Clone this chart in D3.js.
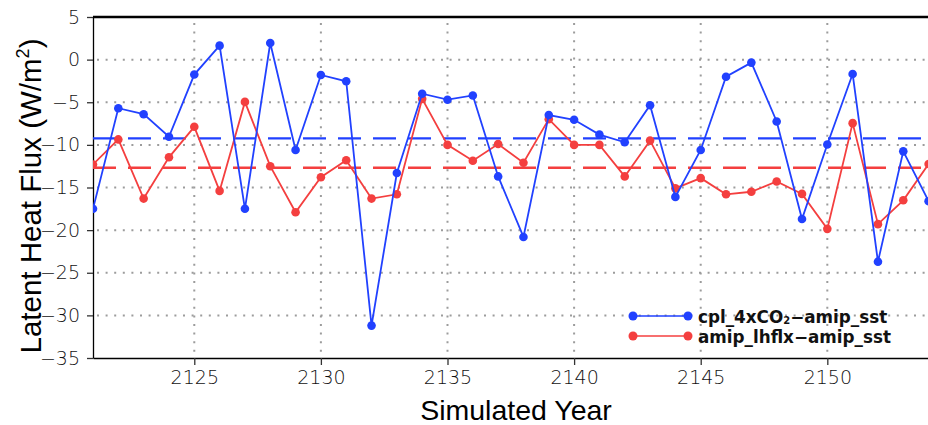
<!DOCTYPE html>
<html>
<head>
<meta charset="utf-8">
<script src="https://cdn.jsdelivr.net/npm/d3@7"></script>
<style>
  html, body { margin: 0; padding: 0; background: #fff; }
  svg { display: block; }
</style>
</head>
<body>
<svg id="chart" width="928" height="425"></svg>
<script>
const years = d3.range(2121, 2155);

// cpl_4xCO2 - amip_sst
const cplValues = [
  -17.5, -5.7, -6.4, -9.05, -1.75, 1.64, -17.5, 1.95, -10.6, -1.8,
  -2.54, -31.2, -13.3, -4.0, -4.7, -4.2, -13.7, -20.8, -6.5, -7.06,
  -8.8, -9.7, -5.35, -16.1, -10.6, -2.0, -0.35, -7.25, -18.7, -9.95,
  -1.68, -23.7, -10.76, -16.6
];

// amip_lhflx - amip_sst
const amipValues = [
  -12.3, -9.36, -16.3, -11.46, -7.88, -15.4, -4.96, -12.5, -17.9, -13.8,
  -11.8, -16.3, -15.8, -4.6, -10.0, -11.86, -9.9, -12.1, -6.98, -10.0,
  -10.0, -13.7, -9.5, -15.1, -13.9, -15.8, -15.5, -14.3, -15.75, -19.85,
  -7.45, -19.3, -16.5, -12.25
];

// dashed mean lines (cpl, amip)
const meanValues = [-9.24, -12.68];

const seriesNames = ["cpl_4xCO", "amip_lhflx\u2212amip_sst"];
const seriesColors = ["#2141ff", "#f43f3f"];

const xTicks = [2125, 2130, 2135, 2140, 2145, 2150];
const yTicks = [5, 0, -5, -10, -15, -20, -25, -30, -35];

const svg = d3.select("#chart");

const mLeft = 93, mTop = 17, mBottom = 358, mRight = 928.6;

const x = d3.scaleLinear().domain([2121, 2154]).range([mLeft, mRight]);
const y = d3.scaleLinear().domain([-35, 5]).range([mBottom, mTop]);

const tickFont = "'DejaVu Sans', sans-serif";

svg.append("defs").append("clipPath").attr("id", "plot-clip")
  .append("rect")
  .attr("x", mLeft).attr("y", mTop - 10)
  .attr("width", 900).attr("height", mBottom - mTop + 20);

// dotted grid
const grid = svg.append("g")
  .attr("stroke", "#9c9c9c")
  .attr("stroke-width", 2)
  .attr("stroke-dasharray", "2,6.6");

grid.selectAll(".gx").data(xTicks).join("line")
  .attr("x1", d => x(d)).attr("x2", d => x(d))
  .attr("y1", mTop + 6).attr("y2", mBottom);

grid.selectAll(".gy").data(yTicks.filter(d => d > -35 && d < 5)).join("line")
  .attr("x1", mLeft + 4).attr("x2", 928)
  .attr("y1", d => y(d)).attr("y2", d => y(d));

// axes
const xAxis = svg.append("g")
  .attr("transform", `translate(0,${mBottom})`)
  .call(d3.axisBottom(x).tickValues(xTicks).tickFormat(d3.format("d"))
    .tickSizeInner(7).tickSizeOuter(0).tickPadding(6));

const yAxis = svg.append("g")
  .attr("transform", `translate(${mLeft},0)`)
  .call(d3.axisLeft(y).tickValues(yTicks)
    .tickFormat(d => d < 0 ? "\u2212" + Math.abs(d) : d)
    .tickSizeInner(6).tickSizeOuter(0).tickPadding(7));

[xAxis, yAxis].forEach(a => {
  a.select(".domain").attr("stroke", "#000").attr("stroke-width", 1.3);
  a.selectAll(".tick line").attr("stroke", "#333").attr("stroke-width", 1.3);
  a.selectAll(".tick text")
    .attr("fill", "#111")
    .style("font-family", tickFont)
    .style("font-weight", 200)
    .style("font-size", "19px");
});
xAxis.selectAll(".tick text").attr("dy", "0.68em");

// thick top frame
svg.append("line")
  .attr("x1", mLeft).attr("x2", 928)
  .attr("y1", mTop).attr("y2", mTop)
  .attr("stroke", "#000").attr("stroke-width", 2.5);

const plot = svg.append("g").attr("clip-path", "url(#plot-clip)");

// mean lines
plot.selectAll(".mean").data(meanValues).join("line")
  .attr("x1", mLeft).attr("x2", 928)
  .attr("y1", d => y(d)).attr("y2", d => y(d))
  .attr("stroke", (d, i) => seriesColors[i])
  .attr("stroke-width", 2.4)
  .attr("stroke-dasharray", "23,12");

const line = d3.line().x((d, i) => x(years[i])).y(d => y(d));

// amip drawn first so cpl sits on top
[amipValues, cplValues].forEach((vals, k) => {
  const color = seriesColors[1 - k];
  plot.append("path")
    .datum(vals)
    .attr("d", line)
    .attr("fill", "none")
    .attr("stroke", color)
    .attr("stroke-width", 1.8);
  plot.selectAll(null).data(vals).join("circle")
    .attr("cx", (d, i) => x(years[i]))
    .attr("cy", d => y(d))
    .attr("r", 4.3)
    .attr("fill", color);
});

// legend
const legend = svg.append("g").attr("transform", "translate(633,316)");
seriesColors.forEach((c, i) => {
  const g = legend.append("g").attr("transform", `translate(0,${i * 20})`);
  g.append("line").attr("x1", 0).attr("x2", 55).attr("stroke", c).attr("stroke-width", 1.6);
  g.selectAll("circle").data([0, 55]).join("circle")
    .attr("cx", d => d).attr("r", 4.5).attr("fill", c);
  const t = g.append("text")
    .attr("x", 65).attr("y", 6.5)
    .style("font-family", tickFont)
    .style("font-weight", "bold")
    .style("font-size", "16.8px")
    .attr("fill", "#111");
  if (i === 0) {
    t.append("tspan").text(seriesNames[0]);
    t.append("tspan").text("2").style("font-size", "10px").attr("dy", 1);
    t.append("tspan").text("\u2212amip_sst").attr("dy", -1);
  } else {
    t.text(seriesNames[1]);
  }
});

// axis titles
svg.append("text")
  .attr("x", 516).attr("y", 420)
  .attr("text-anchor", "middle")
  .style("font-family", "'Liberation Sans', Arial, sans-serif")
  .style("font-size", "28.5px")
  .attr("fill", "#000")
  .text("Simulated Year");

const yt = svg.append("text")
  .attr("transform", "translate(41,196) rotate(-90)")
  .attr("text-anchor", "middle")
  .style("font-family", "'Liberation Sans', Arial, sans-serif")
  .style("font-size", "29.5px")
  .attr("fill", "#000");
yt.append("tspan").text("Latent Heat Flux (W/m");
yt.append("tspan").text("2").style("font-size", "18px").attr("dy", -12);
yt.append("tspan").text(")").attr("dy", 12);
</script>
</body>
</html>
